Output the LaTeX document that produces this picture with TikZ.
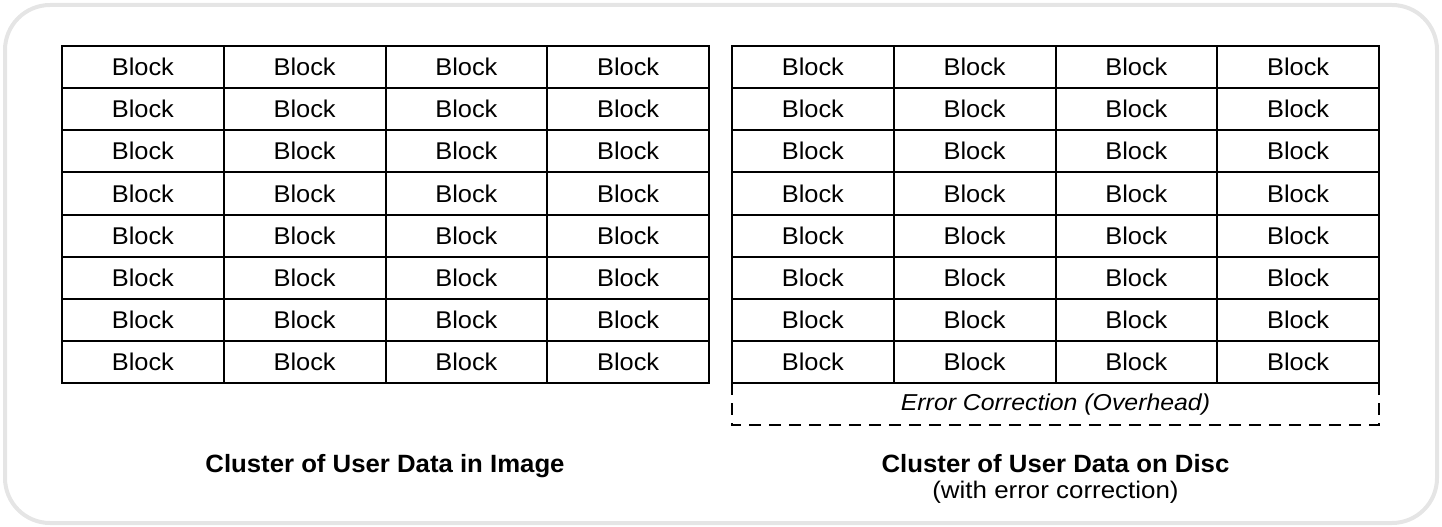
\documentclass[tikz,border=0pt]{standalone}
\usepackage{fontspec}
\setmainfont{Liberation Sans}
% slightly widened faces for the cell text and captions
\newfontfamily\blockfont[FakeStretch=1.05]{Liberation Sans}
\newfontfamily\captionfont[FakeStretch=1.03]{Liberation Sans}
\newfontfamily\notefont[FakeStretch=1.08]{Liberation Sans}
\begin{document}
\begin{tikzpicture}[x=1pt,y=-1pt,
  frame/.style={draw=black!10, line width=4pt, rounded corners=45pt},
  cell/.style={draw=black, line width=2pt, minimum width=161.75pt, minimum height=42.125pt,
    inner sep=0pt, font=\blockfont\fontsize{24.2}{27}\selectfont},
  eccbox/.style={inner sep=0pt, minimum width=647pt, minimum height=42pt,
    font=\notefont\fontsize{23}{26}\selectfont\itshape},
  eccline/.style={line width=2pt, dash pattern=on 12pt off 8pt},
  title/.style={anchor=base, inner sep=0pt, font=\captionfont\fontsize{25}{28}\selectfont\bfseries},
  subtitle/.style={anchor=base, inner sep=0pt, font=\notefont\fontsize{24}{27}\selectfont}]
\useasboundingbox (0,0) rectangle (1442,527);
% outer panel
\draw[frame] (5,5) rectangle (1437,523);
% left cluster: blocks as stored in the image
\foreach \r in {1,...,8}{
  \foreach \c in {1,...,4}{
    \node[cell] (L-\r-\c) at ({62+161.75*(\c-0.5)},{46+42.125*(\r-0.5)}) {Block};
  }
}
% right cluster: blocks as written to disc
\foreach \r in {1,...,8}{
  \foreach \c in {1,...,4}{
    \node[cell] (R-\r-\c) at ({732+161.75*(\c-0.5)},{46+42.125*(\r-0.5)}) {Block};
  }
}
% error-correction overhead below the right cluster
\node[eccbox, anchor=north] (ecc) at (1055.5,383) {Error Correction (Overhead)};
\draw[eccline] (ecc.north west) -- (ecc.south west) -- (ecc.south east) -- (ecc.north east);
% captions
\node[title] (capL) at (385,472) {Cluster of User Data in Image};
\node[title] (capR) at (1055.5,472) {Cluster of User Data on Disc};
\node[subtitle] (subR) at (1055.5,498) {(with error correction)};
\end{tikzpicture}
\end{document}
